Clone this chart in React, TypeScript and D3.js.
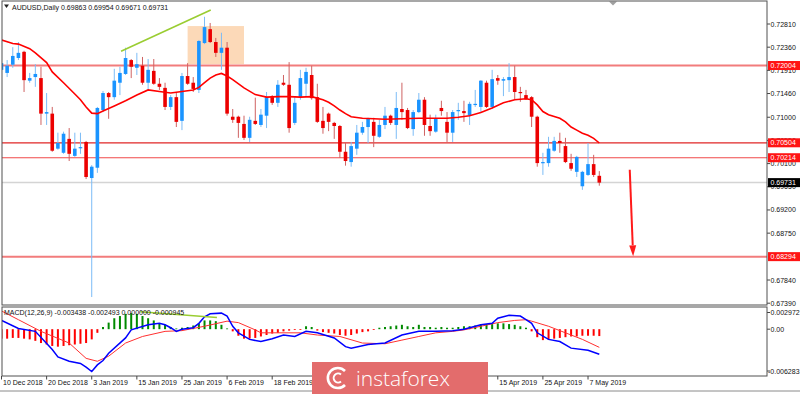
import * as d3 from "d3";

// AUDUSD daily, 10 Dec 2018 .. 9 May 2019
const opens = [
  0.7192, 0.7186, 0.7202, 0.7215, 0.7227, 0.7171, 0.7178, 0.7176, 0.7107, 0.7107,
  0.7039, 0.7031, 0.7058, 0.7025, 0.7041, 0.7052, 0.6982, 0.7002, 0.7114, 0.7147,
  0.7139, 0.7167, 0.7184, 0.7211, 0.7196, 0.72, 0.7167, 0.719, 0.7165, 0.7157,
  0.712, 0.7139, 0.7093, 0.718, 0.7167, 0.7153, 0.7244, 0.7271, 0.7246, 0.7225,
  0.7235, 0.7101, 0.7101, 0.7087, 0.706, 0.7093, 0.7085, 0.7103, 0.7139, 0.7128,
  0.7167, 0.7163, 0.7089, 0.7139, 0.7165, 0.7182, 0.7139, 0.7093, 0.7107, 0.7089,
  0.7083, 0.7033, 0.7013, 0.7039, 0.707, 0.7081, 0.7091, 0.7062, 0.7085, 0.7103,
  0.7085, 0.7116, 0.7114, 0.7077, 0.711, 0.7134, 0.7083, 0.7072, 0.7118, 0.7091,
  0.707, 0.7112, 0.7112, 0.7103, 0.7124, 0.712, 0.7167, 0.712, 0.7176, 0.7171,
  0.7172, 0.7178, 0.7149, 0.7143, 0.7139, 0.7101, 0.7011, 0.7011, 0.7035, 0.7054,
  0.7044, 0.7011, 0.6994, 0.6966, 0.6988, 0.7009, 0.69863,
];
const highs = [
  0.7213, 0.7211, 0.7236, 0.7246, 0.7229, 0.7186, 0.7203, 0.7198, 0.7147, 0.712,
  0.707, 0.7072, 0.7079, 0.707, 0.707, 0.7054, 0.7007, 0.712, 0.7151, 0.7149,
  0.7194, 0.7198, 0.7235, 0.7213, 0.7225, 0.7217, 0.7213, 0.7213, 0.7176, 0.7167,
  0.7143, 0.7149, 0.7186, 0.7205, 0.7178, 0.725, 0.7295, 0.7283, 0.7254, 0.7264,
  0.7246, 0.7116, 0.7103, 0.7103, 0.7101, 0.7138, 0.7116, 0.7149, 0.7143, 0.7172,
  0.7182, 0.7207, 0.7139, 0.7192, 0.7196, 0.72, 0.7165, 0.712, 0.7109, 0.7091,
  0.7085, 0.705, 0.7052, 0.7085, 0.7091, 0.7099, 0.7099, 0.7095, 0.712, 0.7105,
  0.7149, 0.7167, 0.7118, 0.7114, 0.7147, 0.7139, 0.7105, 0.7105, 0.7132, 0.711,
  0.7114, 0.7128, 0.7132, 0.713, 0.7153, 0.7172, 0.7171, 0.7192, 0.7182, 0.7178,
  0.7205, 0.72, 0.7159, 0.7153, 0.7141, 0.7103, 0.7031, 0.7062, 0.7062, 0.707,
  0.706, 0.7029, 0.7025, 0.6996, 0.705, 0.7027, 0.69954,
];
const lows = [
  0.718, 0.7178, 0.7196, 0.7211, 0.7149, 0.7167, 0.7159, 0.7085, 0.7085, 0.7033,
  0.7037, 0.7029, 0.7015, 0.7023, 0.7029, 0.698, 0.6751, 0.6992, 0.711, 0.7097,
  0.7134, 0.7143, 0.7182, 0.7176, 0.7182, 0.7163, 0.7153, 0.7163, 0.7153, 0.7114,
  0.7114, 0.7081, 0.7075, 0.7163, 0.7149, 0.7147, 0.7242, 0.7244, 0.7217, 0.7192,
  0.7103, 0.7089, 0.706, 0.7056, 0.7052, 0.7085, 0.7081, 0.7079, 0.7124, 0.712,
  0.7161, 0.707, 0.7085, 0.7134, 0.7141, 0.7134, 0.7089, 0.7068, 0.7073, 0.7058,
  0.7021, 0.7006, 0.7004, 0.7027, 0.7066, 0.705, 0.7042, 0.706, 0.7077, 0.7085,
  0.7058, 0.7095, 0.7077, 0.7064, 0.7108, 0.7064, 0.7064, 0.707, 0.7103, 0.7052,
  0.7052, 0.7095, 0.7091, 0.7085, 0.712, 0.711, 0.7118, 0.7116, 0.7163, 0.7141,
  0.7149, 0.7134, 0.713, 0.7134, 0.7081, 0.7004, 0.6988, 0.7004, 0.7033, 0.7031,
  0.7011, 0.6996, 0.6984, 0.6959, 0.6986, 0.6984, 0.69671,
];
const closes = [
  0.7205, 0.72, 0.7219, 0.7225, 0.7172, 0.7176, 0.7184, 0.7107, 0.711, 0.7035,
  0.705, 0.7068, 0.7029, 0.7039, 0.7042, 0.6984, 0.7004, 0.7118, 0.7147, 0.7139,
  0.7171, 0.7186, 0.7215, 0.7198, 0.7203, 0.7167, 0.7192, 0.7165, 0.7159, 0.712,
  0.7139, 0.7091, 0.718, 0.7165, 0.7155, 0.7248, 0.7275, 0.7246, 0.7225, 0.7235,
  0.7107, 0.7095, 0.7089, 0.706, 0.7095, 0.7087, 0.7105, 0.7139, 0.7128, 0.7163,
  0.7163, 0.7079, 0.7128, 0.7176, 0.7188, 0.7137, 0.7091, 0.7079, 0.7091, 0.7083,
  0.7033, 0.7015, 0.7044, 0.707, 0.7081, 0.7097, 0.7064, 0.7085, 0.7103, 0.7089,
  0.7118, 0.711, 0.7079, 0.711, 0.7134, 0.7085, 0.7073, 0.7097, 0.7112, 0.707,
  0.711, 0.7114, 0.7108, 0.7126, 0.7126, 0.7171, 0.712, 0.7174, 0.7171, 0.7174,
  0.7178, 0.7149, 0.7147, 0.7135, 0.7101, 0.7011, 0.7013, 0.7039, 0.7054, 0.705,
  0.7013, 0.7, 0.7023, 0.6994, 0.7009, 0.6988, 0.69731,
];

// moving average, read at bar indexes
const maPoints: [number, number][] = [
  [0, 0.725], [2, 0.7243], [3, 0.7242], [5, 0.7233], [6, 0.7225], [8, 0.7206], [9, 0.7188],
  [11, 0.7167], [13, 0.7145], [14, 0.7134], [15, 0.712], [16, 0.7108], [17, 0.7107], [18, 0.7112],
  [20, 0.7122], [22, 0.7132], [24, 0.7143], [26, 0.7153], [28, 0.715], [30, 0.7147], [32, 0.715],
  [34, 0.7153], [35, 0.7158], [36, 0.7167], [37, 0.7176], [38, 0.7182], [39, 0.7185], [40, 0.718],
  [41, 0.7173], [43, 0.7157], [45, 0.7144], [47, 0.7139], [49, 0.714], [51, 0.714], [53, 0.7139],
  [55, 0.714], [57, 0.7134], [58, 0.7129], [59, 0.7122], [60, 0.7114], [61, 0.7107], [62, 0.7101],
  [64, 0.7098], [68, 0.7096], [74, 0.7098], [79, 0.7098], [81, 0.71], [83, 0.7103], [85, 0.7109],
  [87, 0.7118], [89, 0.7128], [91, 0.7134], [93, 0.7136], [94, 0.7134], [95, 0.7124], [96, 0.7111],
  [97, 0.7105], [99, 0.7098], [100, 0.7091], [101, 0.7081], [102, 0.7075], [103, 0.7069],
  [104, 0.7065], [105, 0.7059], [106, 0.705],
];

const macdPoints: [number, number][] = [
  [0, 0.0012], [3, 0.0001], [6, -0.0003], [9, -0.0028], [10, -0.0038], [12, -0.0044], [14, -0.0047],
  [15, -0.0052], [16, -0.0058], [17, -0.0049], [18, -0.0043], [19, -0.0033], [22, -0.0012],
  [23, -0.0001], [26, 0.0006], [28, 0.0008], [29, 0.0006], [30, 0.0002], [31, -0.0003], [32, 0],
  [34, 0.0002], [35, 0.0008], [36, 0.0017], [37, 0.0021], [39, 0.0022], [40, 0.0018], [41, 0.0004],
  [42, -0.0005], [44, -0.0014], [46, -0.0017], [48, -0.0013], [50, -0.0008], [52, -0.001],
  [54, -0.0003], [56, -0.0005], [59, -0.0012], [61, -0.0024], [62, -0.0026], [65, -0.0021],
  [68, -0.0019], [71, -0.0008], [74, -0.0003], [77, -0.0003], [80, -0.0002], [82, 0], [85, 0.0006],
  [87, 0.0008], [88, 0.0015], [90, 0.0019], [92, 0.0018], [93, 0.0013], [94, 0.0008], [95, -0.0005],
  [97, -0.0014], [99, -0.0017], [101, -0.0026], [104, -0.0029], [106, -0.003438],
];
const signalPoints: [number, number][] = [
  [0, 0.0025], [3, 0.0013], [7, -0.0003], [12, -0.0019], [15, -0.004], [17, -0.0044], [19, -0.0037],
  [22, -0.0019], [25, -0.001], [29, -0.0003], [32, -0.0002], [36, 0.0004], [40, 0.0011], [42, 0.0009],
  [45, -0.0001], [46, -0.0005], [53, -0.0005], [56, -0.0008], [60, -0.001], [64, -0.0019],
  [68, -0.002], [71, -0.0015], [74, -0.001], [77, -0.0005], [80, -0.0003], [82, -0.0001],
  [85, 0.0004], [88, 0.0009], [91, 0.0012], [93, 0.0013], [94, 0.0011], [97, 0.0004], [100, -0.0005],
  [103, -0.0014], [106, -0.002493],
];
const histogram = [
  -0.0013, -0.0013, -0.0012, -0.0012, -0.0013, -0.0014, -0.0016, -0.0019, -0.0021, -0.0023,
  -0.0024, -0.0023, -0.0022, -0.0021, -0.002, -0.0019, -0.0014, -0.0005, 0.0003, 0.0009,
  0.0015, 0.0018, 0.0021, 0.0022, 0.0021, 0.0018, 0.0015, 0.0012, 0.0008, 0.0006,
  0.0003, 0.0001, 0.0002, 0.0003, 0.0005, 0.0008, 0.0012, 0.0012, 0.0011, 0.0006,
  0.0001, -0.0003, -0.0009, -0.0013, -0.0013, -0.0012, -0.001, -0.0008, -0.0006, -0.0005,
  -0.0003, -0.0002, -0.0001, -0.0001, 0.0004, 0.0003, -0.0002, -0.0004, -0.0005, -0.0006,
  -0.0008, -0.0009, -0.0008, -0.0006, -0.0004, -0.0003, -0.0001, 0.0002, 0.0003, 0.0004,
  0.0005, 0.0006, 0.0004, 0.0003, 0.0006, 0.0003, 0.0003, 0.0002, 0.0003, 0.0002,
  0.0002, 0.0003, 0.0004, 0.0004, 0.0005, 0.0007, 0.0007, 0.0007, 0.0008, 0.0008,
  0.0007, 0.0006, 0.0004, 0.0002, -0.0003, -0.0011, -0.0015, -0.0014, -0.0013, -0.0012,
  -0.0011, -0.001, -0.001, -0.0009, -0.0009, -0.0009, -0.000945,
];

// 0.68300 sits fully under the 0.68294 level box, so it is left out
const priceTicks = [0.7281, 0.7236, 0.7191, 0.7146, 0.71, 0.7055, 0.701, 0.6965, 0.692, 0.6875, 0.6784, 0.6739];
const levels = [0.72004, 0.70504, 0.70214, 0.68294];
const lastPrice = 0.69731;
const macdMax = 0.002972;
const macdMin = -0.006283;
const dateTicks: [number, string][] = [
  [0, "10 Dec 2018"], [8, "20 Dec 2018"], [16, "3 Jan 2019"], [24, "15 Jan 2019"],
  [32, "25 Jan 2019"], [40, "6 Feb 2019"], [48, "18 Feb 2019"], [56, "28 Feb 2019"],
  [64, "12 Mar 2019"], [72, "22 Mar 2019"], [80, "3 Apr 2019"], [88, "15 Apr 2019"],
  [96, "25 Apr 2019"], [104, "7 May 2019"],
];
const symbol = "AUDUSD,Daily";
const macdName = "MACD(12,26,9)";
const macdReadout = ["-0.003438", "-0.002493", "0.000000", "-0.000945"];

// annotations in data space [bar, price]
const trendLine: [number, number][] = [[21.2, 0.7228], [37.1, 0.7308]];
const zoneBars = [33, 43];
const zonePrices = [0.7203, 0.7277];
const arrowPath: [number, number][] = [[111.4, 0.6998], [112.0, 0.683]];
const macdTrend: [number, number][] = [[24.6, 0.0024], [38.2, 0.0016]];

const levelStyle: Record<string, { stroke: string; width: number }> = {
  "0.72004": { stroke: "#f27c7c", width: 2 },
  "0.70504": { stroke: "#e02626", width: 1.2 },
  "0.70214": { stroke: "#f04a4a", width: 1.2 },
  "0.68294": { stroke: "#f27c7c", width: 2 },
};

const FONT = "'Liberation Sans', Arial, sans-serif";

export default function App() {
  const n = closes.length;
  const left = 2, right = 767;
  const mainTop = 1, mainBottom = 305, subTop = 307, subBottom = 376;
  const mark = { x: 312, y: 362, w: 176, h: 32 };

  const x = d3.scaleLinear().domain([0, n - 1]).range([1.5, 599.3]);
  const y = d3.scaleLinear().domain([0.6739, 0.7281]).range([303.2, 24]);
  const ym = d3.scaleLinear().domain([macdMin, macdMax]).range([375, 307.5]);

  const priceLine = d3.line<[number, number]>().x(d => x(d[0])).y(d => y(d[1]));
  const macdLine = d3.line<[number, number]>().x(d => x(d[0])).y(d => ym(d[1]));

  const [ax1, ay1] = [x(arrowPath[0][0]), y(arrowPath[0][1])];
  const [ax2, ay2] = [x(arrowPath[1][0]), y(arrowPath[1][1])];
  const len = Math.hypot(ax2 - ax1, ay2 - ay1);
  const ux = (ax2 - ax1) / len, uy = (ay2 - ay1) / len;
  const bx = ax2 - ux * 11, by = ay2 - uy * 11;
  const head = `${ax2},${ay2} ${bx - uy * 3.5},${by + ux * 3.5} ${bx + uy * 3.5},${by - ux * 3.5}`;

  const last = n - 1;
  const titleText = `${symbol}  ${[opens[last], highs[last], lows[last], closes[last]].map(v => v.toFixed(5)).join(" ")}`;

  // date labels that start under the watermark are hidden by it in the picture
  const visibleDates = dateTicks.filter(([i]) => x(i) < mark.x - 20 || x(i) > mark.x + mark.w);

  return (
    <div style={{ position: "absolute", left: 0, top: 0 }}>
      <svg width={800} height={394} style={{ display: "block", background: "#fff" }} fontFamily={FONT}>
        <defs>
          <clipPath id="mainClip">
            <rect x={left} y={mainTop} width={right - left} height={mainBottom - mainTop} />
          </clipPath>
          <clipPath id="subClip">
            <rect x={left} y={subTop} width={right - left} height={subBottom - subTop} />
          </clipPath>
        </defs>

        <g clipPath="url(#mainClip)">
          <rect x={x(zoneBars[0])} y={y(zonePrices[1])} width={x(zoneBars[1]) - x(zoneBars[0])}
            height={y(zonePrices[0]) - y(zonePrices[1])} fill="#fcd9b8" />
          {levels.map(v => (
            <line key={v} x1={left} x2={right} y1={y(v)} y2={y(v)}
              stroke={levelStyle[v.toFixed(5)].stroke} strokeWidth={levelStyle[v.toFixed(5)].width} />
          ))}
          <line x1={left} x2={right} y1={y(lastPrice)} y2={y(lastPrice)} stroke="#d4d4d4" strokeWidth={1.5} />

          {closes.map((c, i) => {
            const o = opens[i];
            const up = c >= o;
            const col = up ? "#1a94ff" : "#ec0000";
            const top = y(Math.max(o, c));
            const h = Math.max(1.2, y(Math.min(o, c)) - top);
            return (
              <g key={i}>
                <line x1={x(i)} x2={x(i)} y1={y(highs[i])} y2={y(lows[i])}
                  stroke={up ? "#7cbcf6" : "#cf6262"} strokeWidth={1} />
                <rect x={x(i) - 1.8} y={top} width={3.6} height={h} fill={col} />
              </g>
            );
          })}

          <path d={priceLine(maPoints) ?? ""} fill="none" stroke="#ff0000" strokeWidth={1.6} />
          <path d={priceLine(trendLine) ?? ""} fill="none" stroke="#9acd32" strokeWidth={1.6} />
          <line x1={ax1} y1={ay1} x2={bx} y2={by} stroke="#ff1a1a" strokeWidth={2} />
          <polygon points={head} fill="#ff1a1a" />
        </g>

        {/* title */}
        <path d="M4,4.5 L9,4.5 L6.5,8 Z" fill="#222" />
        <text x={12} y={9.5} fontSize={7} fill="#111">{titleText}</text>
        <path d="M609,1.5 L617,1.5 L613,5.5 Z" fill="#a0a0a0" />

        {/* price axis */}
        {priceTicks.map(v => (
          <g key={v}>
            <line x1={right} x2={right + 3} y1={y(v)} y2={y(v)} stroke="#444" />
            <text x={770.5} y={y(v) + 2.5} fontSize={7} fill="#111">{v.toFixed(5)}</text>
          </g>
        ))}
        {levels.map(v => (
          <g key={"l" + v}>
            <rect x={768} y={y(v) - 4.5} width={32} height={9} fill="#ff1414" />
            <text x={770.5} y={y(v) + 2.5} fontSize={7} fill="#fff">{v.toFixed(5)}</text>
          </g>
        ))}
        <rect x={768} y={y(lastPrice) - 4.5} width={32} height={9} fill="#000" />
        <text x={770.5} y={y(lastPrice) + 2.5} fontSize={7} fill="#fff">{lastPrice.toFixed(5)}</text>

        {/* MACD window */}
        <g clipPath="url(#subClip)">
          {histogram.map((v, i) => (
            <rect key={i} x={x(i) - 1} width={2} y={Math.min(ym(v), ym(0))}
              height={Math.max(0.8, Math.abs(ym(v) - ym(0)))} fill={v >= 0 ? "#008a00" : "#ff0000"} />
          ))}
          <path d={macdLine(signalPoints) ?? ""} fill="none" stroke="#ff3030" strokeWidth={1} />
          <path d={macdLine(macdPoints) ?? ""} fill="none" stroke="#0000ff" strokeWidth={1.5} />
          <path d={macdLine(macdTrend) ?? ""} fill="none" stroke="#9acd32" strokeWidth={1.5} />
        </g>
        <text x={4} y={315} fontSize={7} fill="#111">{`${macdName} ${macdReadout.join(" ")}`}</text>
        <line x1={right} x2={right + 3} y1={subTop + 5.5} y2={subTop + 5.5} stroke="#444" />
        <text x={770.5} y={subTop + 8} fontSize={7} fill="#111">{macdMax.toFixed(6)}</text>
        <line x1={right} x2={right + 3} y1={ym(0)} y2={ym(0)} stroke="#444" />
        <text x={770.5} y={ym(0) + 2.5} fontSize={7} fill="#111">0.00</text>
        <line x1={right} x2={right + 3} y1={subBottom - 5} y2={subBottom - 5} stroke="#444" />
        <text x={768} y={subBottom - 2.5} fontSize={7} fill="#111">{macdMin.toFixed(6)}</text>

        {/* frames */}
        <rect x={left} y={mainTop} width={right - left} height={mainBottom - mainTop} fill="none" stroke="#505050" />
        <rect x={left} y={subTop} width={right - left} height={subBottom - subTop} fill="none" stroke="#505050" />
        <line x1={0} x2={800} y1={391} y2={391} stroke="#8a8a8a" />

        {/* date axis */}
        {dateTicks.map(([i, label]) => (
          <line key={"t" + label} x1={x(i)} x2={x(i)} y1={subBottom} y2={subBottom + 3.5} stroke="#444" />
        ))}
        {visibleDates.map(([i, label]) => (
          <text key={label} x={x(i) + 1.5} y={385} fontSize={7} fill="#111">{label}</text>
        ))}

        {/* watermark */}
        <rect x={mark.x} y={mark.y} width={mark.w} height={mark.h} fill="#e36c6c" />
        <path d="M345,371 A10,10 0 1,0 345,385" fill="none" stroke="#fff" strokeWidth={2.6} />
        <path d="M341,374.5 A4.5,4.5 0 1,0 341,381.5" fill="none" stroke="#fff" strokeWidth={2} />
        <text x={356} y={386} fontSize={21} fill="#fff" fontFamily="'Open Sans', sans-serif" fontWeight={300}>instaforex</text>
      </svg>
    </div>
  );
}
